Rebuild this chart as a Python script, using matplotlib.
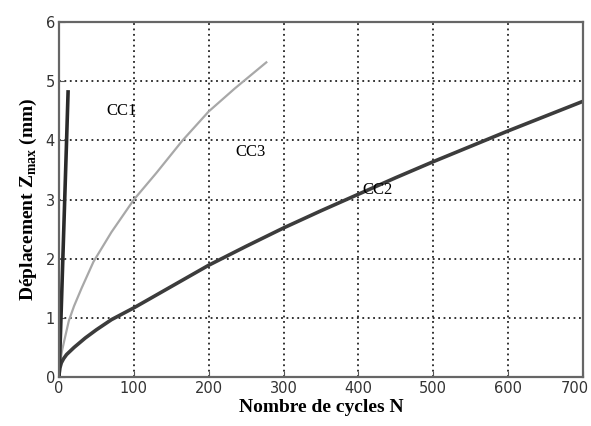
import matplotlib
matplotlib.use('Agg')
import matplotlib.pyplot as plt
import matplotlib.transforms as mtransforms

# curves
n_cc1 = [0, 1, 2.5, 5, 7.5, 10, 12]
z_cc1 = [0, 0.4, 1.0, 2.0, 3.0, 4.0, 4.82]

n_cc3 = [0, 2, 4, 7, 13, 20, 30, 46, 70, 100, 130, 165, 200, 235, 277]
z_cc3 = [0, 0.3, 0.45, 0.62, 0.95, 1.2, 1.5, 1.95, 2.45, 3.0, 3.45, 4.0, 4.49, 4.88, 5.32]

n_cc2 = [0, 1, 3, 6, 10, 20, 35, 50, 70, 100, 150, 200, 250, 300, 350, 400, 450, 500, 550, 600, 650, 700]
z_cc2 = [0.05, 0.15, 0.24, 0.31, 0.38, 0.5, 0.66, 0.8, 0.97, 1.17, 1.53, 1.89, 2.21, 2.52, 2.81, 3.09,
         3.37, 3.64, 3.9, 4.16, 4.41, 4.66]

x_ticks = [0, 100, 200, 300, 400, 500, 600, 700]
y_ticks = [0, 1, 2, 3, 4, 5, 6]

labels = [('CC1', 63, 4.49), ('CC3', 235, 3.81), ('CC2', 406, 3.17)]

plt.rcParams['mathtext.fontset'] = 'custom'
plt.rcParams['mathtext.rm'] = 'Liberation Serif:bold'

fig = plt.figure(figsize=(5.91, 4.26), dpi=100)
ax = fig.add_axes([0.1, 0.115, 0.886, 0.833])

ax.plot(n_cc3, z_cc3, color='#a8a8a8', lw=1.6)
ax.plot(n_cc2, z_cc2, color='#3c3c3c', lw=2.6)
ax.plot(n_cc1, z_cc1, color='#2a2a2a', lw=2.6)

for txt, x, y in labels:
    ax.text(x, y, txt, family='Liberation Serif', fontsize=12, va='center', ha='left')

ax.set_xlim(0, 700)
ax.set_ylim(0, 6)
ax.set_xticks(x_ticks, [str(t) for t in x_ticks])
ax.set_yticks(y_ticks, [str(t) for t in y_ticks])
ax.grid(True, color='#222222', linestyle=(0, (1, 2)), linewidth=1.3)
ax.tick_params(direction='in', length=4, color='#555555', labelsize=10.5, labelcolor='#333333', pad=3)
for s in ax.spines.values():
    s.set_color('#666666')
    s.set_linewidth(1.6)

# nudge the last tick label so it stays inside the figure
shift = mtransforms.ScaledTranslation(-6 / 72, 0, fig.dpi_scale_trans)
for lab in ax.get_xticklabels():
    if lab.get_text() == '700':
        lab.set_transform(lab.get_transform() + shift)

ax.set_xlabel('Nombre de cycles N', family='Liberation Serif', fontweight='bold', fontsize=14, labelpad=2)
ax.set_ylabel(r'Déplacement Z$_{\rm max}$ (mm)', family='Liberation Serif', fontweight='bold', fontsize=14, labelpad=5)

plt.savefig('out.png', dpi=100)
